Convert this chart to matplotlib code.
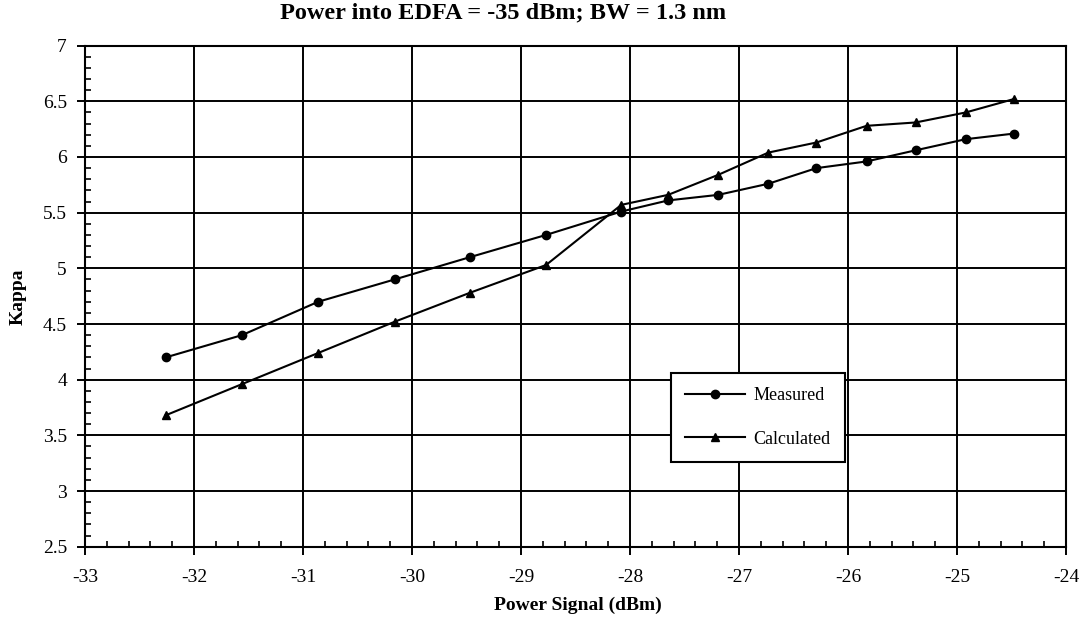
import matplotlib
matplotlib.use("Agg")
import matplotlib.pyplot as plt
from matplotlib.ticker import MultipleLocator

# data
power = [-32.26, -31.56, -30.86, -30.16, -29.47, -28.77, -28.08, -27.65,
         -27.19, -26.73, -26.29, -25.83, -25.38, -24.92, -24.48]
measured = [4.2, 4.4, 4.7, 4.9, 5.1, 5.3, 5.51, 5.61,
            5.66, 5.76, 5.9, 5.96, 6.06, 6.16, 6.21]
calculated = [3.68, 3.96, 4.24, 4.52, 4.78, 5.03, 5.57, 5.66,
              5.84, 6.04, 6.13, 6.28, 6.31, 6.40, 6.52]

plt.rcParams['font.family'] = ['Liberation Serif', 'DejaVu Serif']
plt.rcParams['axes.unicode_minus'] = False

fig = plt.figure(figsize=(10.88, 6.34), dpi=100)
ax = fig.add_axes([0.0781, 0.1377, 0.9017, 0.7903])

ax.plot(power, measured, color='black', lw=1.5, marker='o', ms=6, label='Measured')
ax.plot(power, calculated, color='black', lw=1.5, marker='^', ms=6, label='Calculated')

ax.set_xlim(-33, -24)
ax.set_ylim(2.5, 7)
ax.xaxis.set_major_locator(MultipleLocator(1))
ax.xaxis.set_minor_locator(MultipleLocator(0.2))
ax.yaxis.set_major_locator(MultipleLocator(0.5))
ax.yaxis.set_minor_locator(MultipleLocator(0.1))
ax.xaxis.set_major_formatter(plt.FuncFormatter(lambda v, p: f'{v:g}'))
ax.yaxis.set_major_formatter(plt.FuncFormatter(lambda v, p: f'{v:g}'))

ax.grid(True, which='major', color='black', lw=1.4)
ax.tick_params(which='major', direction='out', length=6, width=1.4, labelsize=14)
ax.tick_params(axis='x', which='major', pad=10)
ax.tick_params(axis='y', which='major', pad=7)
ax.tick_params(which='minor', direction='in', length=4, width=1.2)
for s in ax.spines.values():
    s.set_linewidth(1.5)

fig.text(503 / 1088, 1 - 13 / 634, 'Power into EDFA = -35 dBm; BW = 1.3 nm',
         fontsize=17.5, fontweight='bold', ha='center', va='center')
fig.text(578 / 1088, 1 - 605 / 634, 'Power Signal (dBm)', fontsize=14,
         fontweight='bold', ha='center', va='center')
fig.text(18 / 1088, 1 - 297 / 634, 'Kappa', fontsize=14, fontweight='bold',
         ha='center', va='center', rotation=90)

leg = ax.legend(loc='lower left', bbox_to_anchor=(0.597, 0.169), fontsize=13,
                fancybox=False, framealpha=1, edgecolor='black',
                labelspacing=1.45, handlelength=3.3, handletextpad=0.5,
                borderpad=0.8, borderaxespad=0)
leg.get_frame().set_linewidth(1.5)

plt.savefig('out.png', dpi=100)
